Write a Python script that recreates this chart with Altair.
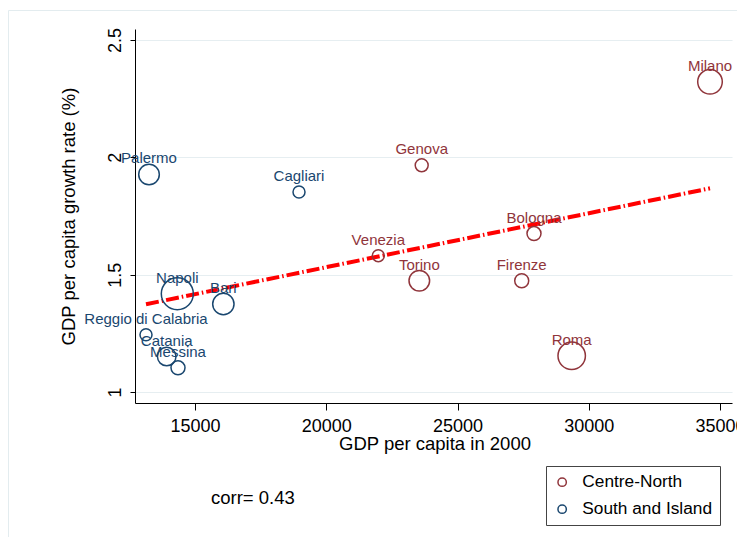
import altair as alt
import pandas as pd

cities = ["Milano", "Genova", "Venezia", "Bologna", "Torino", "Firenze", "Roma",
          "Palermo", "Cagliari", "Napoli", "Bari", "Reggio di Calabria", "Catania", "Messina"]
regions = ["Centre-North"] * 7 + ["South and Island"] * 7
gdp2000 = [34619, 23636, 21983, 27914, 23545, 27446, 29350,
           13248, 18962, 14326, 16080, 13133, 13922, 14352]
growth = [2.322, 1.966, 1.581, 1.675, 1.474, 1.474, 1.154,
          1.927, 1.852, 1.419, 1.375, 1.244, 1.151, 1.103]
weight = [151, 42, 36, 49, 106, 49, 188,
          106, 36, 256, 114, 36, 86, 49]

fit_x = [13133, 34619]
fit_y = [1.374, 1.868]

x_ticks = [15000, 20000, 25000, 30000, 35000]
y_ticks = [1, 1.5, 2, 2.5]
region_names = ["Centre-North", "South and Island"]
region_colors = ["#90353b", "#1a476f"]
corr_text = "corr= 0.43"

df = pd.DataFrame({"city": cities, "region": regions, "gdp": gdp2000,
                   "growth": growth, "weight": weight})
fit = pd.DataFrame({"gdp": fit_x, "growth": fit_y})

FONT = "Liberation Sans"
W, H = 597, 374

xscale = alt.Scale(domain=[12714, 35457], nice=False, zero=False)
yscale = alt.Scale(domain=[0.953, 2.547], nice=False, zero=False)
cscale = alt.Scale(domain=region_names, range=region_colors)

X = alt.X("gdp:Q", scale=xscale,
          axis=alt.Axis(values=x_ticks, format="d", title="GDP per capita in 2000",
                        grid=False, tickSize=7, labelPadding=21.5,
                        labelBaseline="alphabetic", labelFontSize=18,
                        titleFontSize=18.5, titleFontWeight="normal",
                        titleX=W / 2 + 1, titleY=46, titleBaseline="alphabetic",
                        domainColor="black", tickColor="black",
                        labelColor="black", titleColor="black"))
Y = alt.Y("growth:Q", scale=yscale,
          axis=alt.Axis(values=y_ticks, labelExpr="datum.value",
                        title="GDP per capita growth rate (%)",
                        grid=True, gridColor="#e6eef1", gridWidth=1.2,
                        tickSize=5, labelAngle=270, labelAlign="center",
                        labelBaseline="alphabetic", labelPadding=9.3,
                        labelFontSize=18, titleFontSize=18.5,
                        titleFontWeight="normal", titleAngle=270,
                        titleX=-67, titleY=H / 2, titleAlign="center",
                        titleBaseline="middle",
                        domainColor="black", tickColor="black",
                        labelColor="black", titleColor="black"))

frame = alt.Chart(pd.DataFrame({"k": [0]})).mark_rect(
    fill=None, stroke="#e3ecef", strokeWidth=1
).encode(x=alt.value(-126.5), x2=alt.value(640), y=alt.value(-18.5), y2=alt.value(540))

line = alt.Chart(fit).mark_line(
    color="#ff0000", strokeWidth=4, strokeDash=[13, 3, 1.5, 3]
).encode(x=X, y=Y)

points = alt.Chart(df).mark_point(
    shape="circle", filled=False, strokeWidth=1.5, opacity=1
).encode(
    x=X, y=Y,
    color=alt.Color("region:N", scale=cscale,
                    legend=alt.Legend(title=None, orient="none", legendX=411, legendY=437,
                                      padding=7.5, strokeColor="#444444",
                                      fillColor="white", symbolType="circle",
                                      symbolSize=70, symbolStrokeWidth=1.5,
                                      symbolFillColor="transparent",
                                      labelFontSize=17.3, labelOffset=11.5,
                                      rowPadding=9, labelColor="black",
                                      labelFont=FONT)),
    size=alt.Size("weight:Q", scale=alt.Scale(type="linear", domain=[0, 256], range=[0, 1024]),
                  legend=None),
)

labels = alt.Chart(df).mark_text(
    fontSize=15, dy=-16, baseline="middle", align="center", font=FONT
).encode(x=X, y=Y, text="city:N",
         color=alt.Color("region:N", scale=cscale, legend=None))

corr = alt.Chart(pd.DataFrame({"t": [corr_text]})).mark_text(
    fontSize=18.5, align="left", baseline="middle", font=FONT, color="black"
).encode(x=alt.value(76), y=alt.value(469), text="t:N")

chart = alt.layer(frame, line, points, labels, corr).resolve_legend(
    color="independent"
).properties(
    width=W, height=H,
    autosize=alt.AutoSizeParams(type="none"),
    padding={"left": 127, "top": 21, "right": 5, "bottom": 134},
).configure(font=FONT).configure_view(stroke=None).configure_axis(
    labelFont=FONT, titleFont=FONT, domainWidth=1, tickWidth=1
)

chart.save("out.html", embed_options={"renderer": "svg", "actions": False})
